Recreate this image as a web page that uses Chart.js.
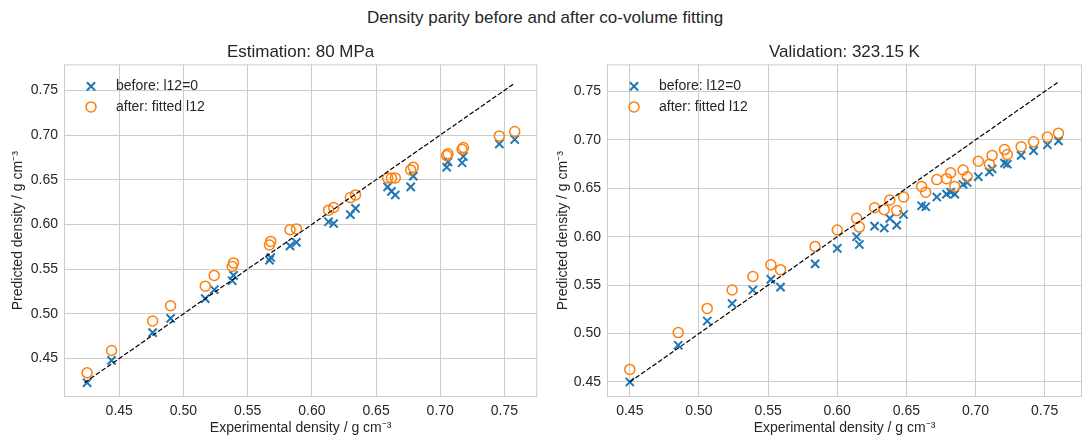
<!DOCTYPE html>
<html>
<head>
<meta charset="utf-8">
<script src="https://cdn.jsdelivr.net/npm/chart.js@4/dist/chart.umd.min.js"></script>
<style>
  body { margin: 0; background: #fff; width: 1090px; height: 446px; position: relative; overflow: hidden;
         font-family: "Liberation Sans", Arial, sans-serif; }
  #sup { position: absolute; top: 8px; left: 0; width: 1090px; text-align: center; font-size: 17px; line-height: 20px; color: #262626; }
  .panel { position: absolute; top: 0; width: 545px; height: 446px; }
</style>
</head>
<body>
<div id="sup">Density parity before and after co-volume fitting</div>
<div class="panel" style="left:0"><canvas id="est" width="545" height="446"></canvas></div>
<div class="panel" style="left:545px"><canvas id="val" width="545" height="446"></canvas></div>
<script>
// Estimation: 80 MPa
var estExp    = [0.425,0.444,0.476,0.490,0.517,0.524,0.538,0.539,0.567,0.568,0.583,0.588,0.613,0.617,0.630,0.634,0.659,0.662,0.665,0.677,0.679,0.705,0.706,0.717,0.718,0.746,0.758];
var estBefore = [0.423,0.448,0.479,0.495,0.517,0.527,0.537,0.543,0.560,0.563,0.576,0.580,0.603,0.601,0.611,0.618,0.642,0.637,0.633,0.642,0.654,0.664,0.670,0.669,0.676,0.690,0.695];
var estAfter  = [0.434,0.459,0.492,0.509,0.531,0.543,0.553,0.557,0.577,0.581,0.594,0.595,0.616,0.619,0.630,0.633,0.652,0.652,0.652,0.661,0.664,0.677,0.679,0.684,0.686,0.699,0.704];

// Validation: 323.15 K
var valExp    = [0.450,0.485,0.506,0.524,0.539,0.552,0.559,0.584,0.600,0.614,0.616,0.627,0.634,0.638,0.643,0.648,0.661,0.664,0.672,0.679,0.682,0.685,0.691,0.694,0.702,0.710,0.712,0.721,0.723,0.733,0.742,0.752,0.760];
var valBefore = [0.450,0.488,0.513,0.531,0.545,0.556,0.548,0.572,0.588,0.600,0.592,0.611,0.609,0.619,0.612,0.623,0.632,0.631,0.641,0.644,0.646,0.644,0.654,0.656,0.662,0.667,0.670,0.676,0.675,0.684,0.689,0.695,0.699];
var valAfter  = [0.463,0.501,0.526,0.545,0.559,0.571,0.566,0.590,0.607,0.619,0.610,0.630,0.628,0.638,0.627,0.641,0.652,0.646,0.659,0.660,0.666,0.652,0.669,0.662,0.678,0.675,0.684,0.690,0.685,0.693,0.698,0.703,0.707];

var tickValues = [0.45,0.50,0.55,0.60,0.65,0.70,0.75];
var seriesNames = ['before: l12=0', 'after: fitted l12'];
var xTitle = 'Experimental density / g cm\u207B\u00B3';
var yTitle = 'Predicted density / g cm\u207B\u00B3';

var blue = '#1f77b4', orange = '#ff7f0e', grid = '#cccccc', text = '#262626';

Chart.defaults.font.family = '"Liberation Sans", Arial, sans-serif';
Chart.defaults.color = text;

// axes frame + matplotlib-like legend in the upper left of the plot
var framePlugin = {
  id: 'frame',
  beforeDatasetsDraw: function(chart) {
    var a = chart.chartArea, ctx = chart.ctx;
    ctx.save();
    ctx.strokeStyle = grid;
    ctx.lineWidth = 1;
    ctx.strokeRect(a.left + 0.5, a.top + 0.5, a.right - a.left - 1, a.bottom - a.top - 1);
    ctx.restore();
  },
  afterDraw: function(chart) {
    var a = chart.chartArea, ctx = chart.ctx;
    ctx.save();
    chart.data.datasets.slice(0, 2).forEach(function(d, i) {
      var x = a.left + 27, y = a.top + 22 + i * 20.5;
      ctx.strokeStyle = d.borderColor;
      ctx.lineWidth = d.borderWidth;
      ctx.beginPath();
      if (d.pointStyle === 'crossRot') {
        var o = d.pointRadius * Math.SQRT1_2;
        ctx.moveTo(x - o, y - o); ctx.lineTo(x + o, y + o);
        ctx.moveTo(x - o, y + o); ctx.lineTo(x + o, y - o);
      } else {
        ctx.arc(x, y, d.pointRadius, 0, Math.PI * 2);
      }
      ctx.stroke();
      ctx.fillStyle = text;
      ctx.font = '14px "Liberation Sans", Arial, sans-serif';
      ctx.textBaseline = 'middle';
      ctx.fillText(d.label, a.left + 52, y);
    });
    ctx.restore();
  }
};

function axis(range, title, fit) {
  return {
    type: 'linear', min: range[0], max: range[1],
    afterBuildTicks: function(s) { s.ticks = tickValues.map(function(v) { return {value: v}; }); },
    ticks: { padding: 6, font: {size: 14}, color: text, autoSkip: false, maxRotation: 0,
             callback: function(v) { return v.toFixed(2); } },
    grid: { color: grid, lineWidth: 1, drawTicks: false },
    border: { display: false },
    title: { display: true, text: title, font: {size: 14}, color: text, padding: {top: 9.6, bottom: 9.6} },
    afterFit: fit
  };
}

function makeChart(id, title, exp, before, after, xr, yr, yWidth, padRight) {
  var all = exp.concat(before, after);
  var lo = Math.min.apply(null, all), hi = Math.max.apply(null, all);
  return new Chart(document.getElementById(id), {
    type: 'scatter',
    data: {
      datasets: [
        { label: seriesNames[0], data: exp.map(function(v, i) { return {x: v, y: before[i]}; }),
          pointStyle: 'crossRot', pointRadius: 5.8, borderWidth: 2, borderColor: blue, backgroundColor: blue, order: 2 },
        { label: seriesNames[1], data: exp.map(function(v, i) { return {x: v, y: after[i]}; }),
          pointStyle: 'circle', pointRadius: 5, borderWidth: 1.5, borderColor: orange, backgroundColor: 'rgba(0,0,0,0)', order: 1 },
        { label: '', data: [{x: lo, y: lo}, {x: hi, y: hi}], showLine: true, pointRadius: 0,
          borderColor: '#000', borderWidth: 1.2, borderDash: [4.8, 2.1], order: 0 }
      ]
    },
    options: {
      responsive: false, animation: false, devicePixelRatio: 1,
      layout: { padding: {left: 0, right: padRight, top: 42, bottom: 0} },
      plugins: {
        legend: { display: false },
        tooltip: { enabled: false },
        title: { display: true, fullSize: false, text: title, font: {size: 17, weight: 'normal'}, color: text,
                 padding: {top: 0, bottom: 2} }
      },
      scales: {
        x: axis(xr, xTitle, function(s) { s.height = 49; }),
        y: axis(yr, yTitle, function(s) { s.width = yWidth; })
      }
    },
    plugins: [framePlugin]
  });
}

makeChart('est', 'Estimation: 80 MPa', estExp, estBefore, estAfter, [0.407, 0.7755], [0.407, 0.779], 64, 6);
makeChart('val', 'Validation: 323.15 K', valExp, valBefore, valAfter, [0.4335, 0.777], [0.4345, 0.778], 62, 8);
</script>
</body>
</html>
